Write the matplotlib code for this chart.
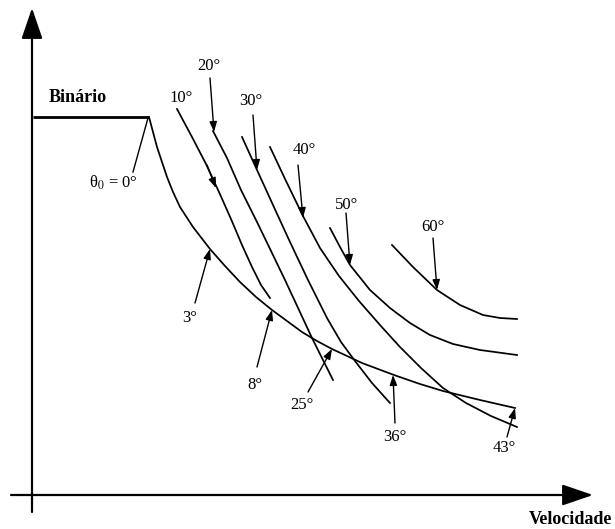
import matplotlib
matplotlib.use("Agg")
import matplotlib.pyplot as plt
from matplotlib.patches import FancyArrowPatch

plt.rcParams['font.family'] = ['Liberation Serif', 'DejaVu Serif']
plt.rcParams['mathtext.fontset'] = 'stix'

# ---- data (velocity, torque) in arbitrary schematic units ----
const_v = [1, 117]
const_T = [378, 378]

env_v = [117, 121, 125, 130, 135, 141, 148, 161, 178, 193, 208, 224, 240, 255, 270,
         285, 300, 330, 362, 388, 411, 448, 483]
env_T = [378, 363, 348, 333, 318, 303, 288, 268, 246, 229, 213, 198, 185, 174, 163,
         154, 146, 132, 120, 111, 104, 95, 87]

c10_v = [145, 160, 174, 187, 199, 210, 220, 229, 238]
c10_T = [386, 358, 331, 303, 276, 250, 228, 210, 197]

c20_v = [181, 195, 209, 225, 240, 253, 267, 280, 291, 301]
c20_T = [364, 337, 305, 273, 242, 215, 185, 157, 135, 115]

c30_v = [210, 225, 241, 258, 276, 295, 309, 323, 340, 358]
c30_T = [358, 325, 290, 253, 215, 177, 153, 134, 112, 92]

c40_v = [238, 254, 271, 288, 307, 327, 348, 368, 389, 411, 434, 459, 485]
c40_T = [348, 314, 279, 247, 219, 194, 170, 148, 127, 107, 92, 79, 68]

c50_v = [298, 308, 318, 338, 358, 378, 398, 421, 448, 485]
c50_T = [267, 248, 230, 205, 187, 172, 160, 151, 145, 140]

c60_v = [360, 381, 405, 428, 451, 468, 485]
c60_T = [250, 228, 205, 190, 180, 177, 176]

# labels above curves (text, text pos, arrow tail, arrow head)
top_labels = ['10°', '20°', '30°', '40°', '50°', '60°']
top_text_v = [149, 177, 219, 272, 315, 401]
top_text_T = [397, 429, 394, 345, 290, 268]
top_tail_v = [175, 178, 221, 266, 314, 401]
top_tail_T = [330, 417, 380, 330, 282, 257]
top_head_v = [184, 182, 225, 271, 318, 405]
top_head_T = [307, 363, 325, 277, 230, 205]

# labels below the envelope
bot_labels = ['3°', '8°', '25°', '36°', '43°']
bot_text_v = [158, 223, 270, 363, 472]
bot_text_T = [177, 110, 90, 58, 47]
bot_tail_v = [163, 225, 276, 363, 475]
bot_tail_T = [192, 128, 103, 72, 58]
bot_head_v = [178, 240, 300, 361, 483]
bot_head_T = [246, 185, 146, 120, 87]

theta_text = (81, 312)
theta_line_v = [101, 116]
theta_line_T = [323, 377]

# ---- figure ----
fig = plt.figure(figsize=(6.15, 5.29), dpi=100)
ax = fig.add_axes([0, 0, 1, 1])
ax.set_xlim(-32, 583)
ax.set_ylim(-34, 495)
ax.axis('off')

# axes with arrows
for (x0, y0, x1, y1) in [(0, -17, 0, 487), (-21, 0, 561, 0)]:
    ax.add_patch(FancyArrowPatch((x0, y0), (x1, y1),
                                 arrowstyle='-|>,head_length=1.9,head_width=0.65',
                                 mutation_scale=10, lw=1.6, color='black',
                                 shrinkA=0, shrinkB=0))

ax.plot(const_v, const_T, color='black', lw=2.0, solid_capstyle='butt')
for v, T in [(env_v, env_T), (c10_v, c10_T), (c20_v, c20_T), (c30_v, c30_T),
             (c40_v, c40_T), (c50_v, c50_T), (c60_v, c60_T)]:
    ax.plot(v, T, color='black', lw=1.25, solid_joinstyle='round')

style = '-|>,head_length=0.6,head_width=0.22'
for lab, tx, ty, ax0, ay0, ax1, ay1 in zip(top_labels, top_text_v, top_text_T,
                                            top_tail_v, top_tail_T, top_head_v, top_head_T):
    ax.text(tx, ty, lab, fontsize=12, ha='center', va='center')
    ax.add_patch(FancyArrowPatch((ax0, ay0), (ax1, ay1), arrowstyle=style,
                                 mutation_scale=10, lw=1.0, color='black',
                                 shrinkA=0, shrinkB=0))

for lab, tx, ty, ax0, ay0, ax1, ay1 in zip(bot_labels, bot_text_v, bot_text_T,
                                            bot_tail_v, bot_tail_T, bot_head_v, bot_head_T):
    ax.text(tx, ty, lab, fontsize=12, ha='center', va='center')
    ax.add_patch(FancyArrowPatch((ax0, ay0), (ax1, ay1), arrowstyle=style,
                                 mutation_scale=10, lw=1.0, color='black',
                                 shrinkA=0, shrinkB=0))

ax.text(theta_text[0], theta_text[1], 'θ$_{\\mathrm{0}}$ = 0°', fontsize=12,
        ha='center', va='center')
ax.plot(theta_line_v, theta_line_T, color='black', lw=1.0)

ax.text(46, 398, 'Binário', fontsize=13, fontweight='bold', ha='center', va='center')
ax.text(538, -25, 'Velocidade', fontsize=13, fontweight='bold', ha='center', va='center')

fig.savefig('out.png', dpi=100)
